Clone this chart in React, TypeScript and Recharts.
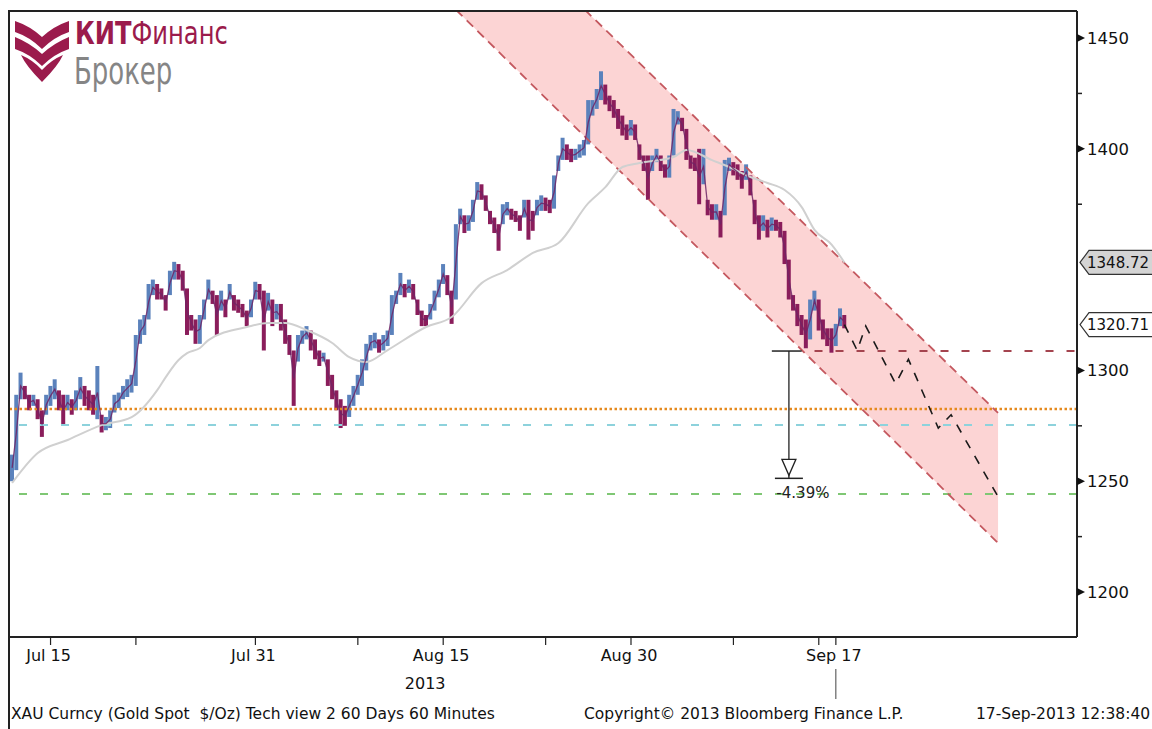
import {
  Area,
  Bar,
  Cell,
  ComposedChart,
  Line,
  ReferenceDot,
  ReferenceLine,
  XAxis,
  YAxis,
} from "recharts"

// XAU hourly view, one slot = a quarter of a trading day
const priceHigh = [
  1262, 1289, 1299, 1293, 1289, 1289, 1287, 1282, 1289, 1293,
  1296, 1291, 1289, 1289, 1287, 1291, 1297, 1293, 1291, 1289,
  1302, 1280, 1279, 1282, 1289, 1290, 1293, 1296, 1298, 1316,
  1323, 1325, 1339, 1341, 1339, 1337, 1334, 1345, 1349, 1348,
  1345, 1337, 1325, 1323, 1325, 1332, 1341, 1336, 1334, 1336, 1332,
  1339, 1334, 1332, 1330, 1327, 1332, 1340, 1339, 1336, 1335,
  1332, 1330, 1330, 1323, 1316, 1309, 1316, 1318, 1320, 1318,
  1314, 1309, 1308, 1305, 1298, 1291, 1287, 1284, 1289, 1293,
  1298, 1305, 1312, 1316, 1317, 1314, 1316, 1318, 1334, 1336,
  1344, 1339, 1341, 1339, 1332, 1327, 1325, 1330, 1336, 1341,
  1348, 1343, 1336, 1366, 1373, 1370, 1370, 1377, 1385, 1384,
  1379, 1372, 1369, 1366, 1375, 1376, 1373, 1372, 1370, 1377,
  1377, 1372, 1377, 1379, 1378, 1377, 1388, 1397, 1405, 1402,
  1400, 1400, 1402, 1404, 1422, 1422, 1427, 1435, 1429, 1424,
  1422, 1418, 1415, 1411, 1413, 1411, 1402, 1397, 1397, 1397,
  1400, 1397, 1393, 1397, 1418, 1417, 1414, 1409, 1397, 1396,
  1400, 1400, 1377, 1375, 1375, 1372, 1395, 1396, 1394, 1393,
  1390, 1393, 1388, 1377, 1370, 1370, 1368, 1369, 1368, 1367,
  1363, 1350, 1334, 1330, 1325, 1323, 1332, 1336, 1332, 1323,
  1319, 1319, 1321, 1328, 1325,
]
const priceLow = [
  1250, 1255, 1287, 1287, 1282, 1284, 1278, 1270, 1280, 1284,
  1287, 1282, 1275, 1282, 1280, 1282, 1287, 1284, 1282, 1280,
  1278, 1272, 1273, 1274, 1281, 1283, 1287, 1288, 1290, 1293,
  1312, 1316, 1323, 1334, 1332, 1332, 1327, 1334, 1341, 1341,
  1336, 1316, 1318, 1312, 1312, 1323, 1332, 1330, 1316, 1327, 1324,
  1332, 1327, 1326, 1324, 1320, 1324, 1332, 1332, 1309, 1327,
  1320, 1323, 1318, 1312, 1307, 1284, 1304, 1312, 1314, 1309,
  1305, 1302, 1304, 1293, 1287, 1282, 1274, 1275, 1279, 1284,
  1289, 1293, 1300, 1309, 1310, 1308, 1309, 1311, 1316, 1330,
  1334, 1333, 1335, 1332, 1325, 1320, 1320, 1323, 1327, 1333,
  1339, 1334, 1321, 1332, 1366, 1362, 1363, 1367, 1377, 1377,
  1372, 1366, 1362, 1354, 1366, 1370, 1368, 1367, 1363, 1369,
  1359, 1363, 1370, 1372, 1372, 1371, 1373, 1390, 1395, 1395,
  1394, 1395, 1396, 1397, 1402, 1415, 1418, 1422, 1420, 1417,
  1414, 1409, 1406, 1404, 1406, 1404, 1395, 1390, 1377, 1390,
  1394, 1390, 1387, 1387, 1397, 1411, 1408, 1395, 1391, 1390,
  1375, 1384, 1370, 1368, 1368, 1360, 1370, 1390, 1388, 1386,
  1382, 1386, 1379, 1366, 1359, 1363, 1360, 1363, 1363, 1360,
  1348, 1332, 1327, 1320, 1316, 1310, 1314, 1327, 1318, 1314,
  1311, 1308, 1311, 1320, 1319,
]

// moving average (grey)
const maIdx = [
  0, 6, 13, 21, 28, 34, 36, 39, 41, 44, 46, 55, 60, 64, 69, 75, 79, 83, 88,
  97, 103, 110, 116, 122, 128, 135, 139, 143, 147, 155, 158, 164, 168, 173,
  177, 181, 185, 188, 192, 195,
]
const maVal = [
  1249.2, 1262.7, 1268.6, 1275.3, 1278.9, 1291.1, 1297.0, 1304.7, 1307.8,
  1310.1, 1313.7, 1319.6, 1321.4, 1321.4, 1318.2, 1312.4, 1306.0, 1303.8,
  1309.2, 1319.6, 1324.1, 1339.4, 1345.3, 1353.0, 1357.5, 1375.5, 1382.7,
  1391.8, 1393.6, 1396.3, 1399.5, 1394.9, 1391.8, 1387.3, 1384.6, 1381.4,
  1373.7, 1363.4, 1356.8, 1348.7,
]

// projected path (black dashed)
const forecastIdx = [195, 198, 200, 207, 210, 217, 220, 231]
const forecastVal = [1320.7, 1309, 1320, 1294, 1305, 1274, 1280, 1243]

// falling channel
const channelIdx = [104, 231]
const channelLower = [1462.7, 1222.1]
const channelUpper = [1519.5, 1280.8]

const supportLevel = 1308.75
const targetLevel = 1251.3
const orangeLevel = 1282.6
const cyanLevel = 1275.4
const greenLevel = 1244.2
const lastPrice = 1320.71
const lastMA = 1348.72

const arrowIdx = 182
const supportFrom = 178
const supportTo = 185
const dashFrom = 188
const slotCount = 250

const xTickIdx = [9, 29, 57, 81, 101, 125, 145, 169, 189, 193]
const xTickLabel = ["Jul 15", "", "Jul 31", "", "Aug 15", "", "Aug 30", "", "", "Sep 17"]
const yMajor = [1200, 1250, 1300, 1400, 1450]
const yMinor = [1225, 1275, 1375, 1425]
const yTicks = [...yMajor, ...yMinor, lastPrice, lastMA].sort((a, b) => a - b)

const UP = "#5b82bc"
const DOWN = "#8a1d5b"
const FONT = "'DejaVu Sans', sans-serif"
const LOGO_FONT = "'DejaVu Sans Condensed', 'DejaVu Sans', sans-serif"

const rows = Array.from({ length: slotCount }, (_, j) => {
  const row: any = { j }
  if (j < priceHigh.length) {
    row.range = [priceLow[j], priceHigh[j]]
    row.mid = (priceLow[j] + priceHigh[j]) / 2
    const prev = j > 0 ? (priceLow[j - 1] + priceHigh[j - 1]) / 2 : row.mid
    row.color = row.mid >= prev ? UP : DOWN
  }
  const m = maIdx.indexOf(j)
  if (m >= 0) row.ma = maVal[m]
  const f = forecastIdx.indexOf(j)
  if (f >= 0) row.fc = forecastVal[f]
  const c = channelIdx.indexOf(j)
  if (c >= 0) {
    row.lower = channelLower[c]
    row.upper = channelUpper[c]
    row.band = [channelLower[c], channelUpper[c]]
  }
  return row
})

const pct = (((targetLevel - supportLevel) / supportLevel) * 100).toFixed(2) + "%"

function YTick(props: any) {
  const { x, y, payload } = props
  const v = payload.value
  if (v === lastMA || v === lastPrice) {
    const fill = v === lastMA ? "#d4d4d4" : "#ffffff"
    return (
      <g>
        <path
          d={`M${x + 3},${y} L${x + 12},${y - 12} L${x + 76},${y - 12} L${x + 76},${y + 12} L${x + 12},${y + 12} Z`}
          fill={fill}
          stroke="#333"
          strokeWidth={1.2}
        />
        <text x={x + 10} y={y} dy="0.36em" fontSize={15} fill="#111" fontFamily={FONT}>
          {v.toFixed(2)}
        </text>
      </g>
    )
  }
  if (yMajor.includes(v)) {
    return (
      <g>
        <path d={`M${x},${y - 4} L${x + 8},${y} L${x},${y + 4} Z`} fill="#111" />
        <text x={x + 10} y={y} dy="0.36em" fontSize={16.5} fill="#111" fontFamily={FONT}>
          {v}
        </text>
      </g>
    )
  }
  return <line x1={x} x2={x + 5} y1={y} y2={y} stroke="#222" strokeWidth={1.5} />
}

function XTick(props: any) {
  const { x, y, payload } = props
  const k = xTickIdx.indexOf(payload.value)
  const label = xTickLabel[k] || ""
  return (
    <g>
      {label && (
        <text x={x - 2} y={y} dy="0.78em" textAnchor="middle" fontSize={16} fill="#111" fontFamily={FONT}>
          {label}
        </text>
      )}
      {label === "Aug 15" && (
        <text x={x - 18} y={y + 28} dy="0.78em" textAnchor="middle" fontSize={16} fill="#111" fontFamily={FONT}>
          2013
        </text>
      )}
      {label === "Sep 17" && <line x1={x} x2={x} y1={y + 20} y2={y + 50} stroke="#444" strokeWidth={1} />}
    </g>
  )
}

function ArrowHead(props: any) {
  const { cx, cy } = props
  return (
    <g>
      <path
        d={`M${cx - 7},${cy - 19} L${cx + 7},${cy - 19} L${cx},${cy - 3} Z`}
        fill="#fff"
        stroke="#222"
        strokeWidth={1.3}
      />
      <line x1={cx - 14} x2={cx + 14} y1={cy} y2={cy} stroke="#222" strokeWidth={1.5} />
      <text x={cx + 14} y={cy + 14} dy="0.36em" textAnchor="middle" fontSize={15} fill="#222" fontFamily={FONT}>
        {pct}
      </text>
    </g>
  )
}

function Logo() {
  const red = "#9b1b4c"
  return (
    <div style={{ position: "absolute", left: 0, top: 0, width: 250, height: 100 }}>
      <svg width={80} height={100} style={{ position: "absolute", left: 0, top: 0 }}>
        <path d="M15,21 Q30,26 42,37 Q54,26 69,21 L69,32 Q54,37 42,49 Q30,37 15,32 Z" fill={red} />
        <path d="M15,37 Q30,43 42,54 Q54,43 69,37 L69,49 Q54,54 42,66 Q30,54 15,49 Z" fill={red} />
        <path d="M21,55 Q33,60 42,70 Q51,60 63,55 Q58,66 42,82 Q26,66 21,55 Z" fill={red} />
      </svg>
      <div
        style={{
          position: "absolute",
          left: 75,
          top: 17,
          fontFamily: LOGO_FONT,
          fontSize: 32,
          lineHeight: "32px",
          color: red,
          whiteSpace: "nowrap",
          transform: "scaleX(0.84)",
          transformOrigin: "left top",
        }}
      >
        <span style={{ fontWeight: 700 }}>КИТ</span>
        <span>Финанс</span>
      </div>
      <div
        style={{
          position: "absolute",
          left: 74,
          top: 53,
          fontFamily: LOGO_FONT,
          fontSize: 37,
          lineHeight: "38px",
          color: "#858585",
          whiteSpace: "nowrap",
          transform: "scaleX(0.78)",
          transformOrigin: "left top",
        }}
      >
        Брокер
      </div>
    </div>
  )
}

export default function App() {
  const textStyle = {
    position: "absolute" as const,
    top: 705,
    fontFamily: FONT,
    fontSize: 15.5,
    color: "#111",
    whiteSpace: "pre" as const,
  }
  return (
    <div style={{ position: "absolute", left: 0, top: 0, width: 1152, height: 729, background: "#fff" }}>
      <ComposedChart
        width={1152}
        height={729}
        data={rows}
        margin={{ top: 11, right: 0, bottom: 62, left: 10 }}
        barCategoryGap={0}
        barGap={0}
      >
        <XAxis
          dataKey="j"
          type="category"
          ticks={xTickIdx}
          interval={0}
          tick={<XTick />}
          tickSize={8}
          tickMargin={4}
          tickLine={{ stroke: "#222", strokeWidth: 1.2 }}
          axisLine={{ stroke: "#222", strokeWidth: 2 }}
          height={30}
        />
        <YAxis
          orientation="right"
          type="number"
          domain={[1179.7, 1462.2]}
          allowDataOverflow
          ticks={yTicks}
          interval={0}
          tick={<YTick />}
          tickLine={false}
          tickSize={0}
          tickMargin={0}
          axisLine={{ stroke: "#222", strokeWidth: 2 }}
          width={75}
        />
        <Area
          dataKey="band"
          connectNulls
          type="linear"
          stroke="none"
          fill="#fcd4d4"
          fillOpacity={1}
          isAnimationActive={false}
        />
        <ReferenceLine y={orangeLevel} stroke="#e5891d" strokeWidth={2.5} strokeDasharray="2.5 2.5" />
        <ReferenceLine y={cyanLevel} stroke="#8dd2dc" strokeWidth={2} strokeDasharray="8 13" />
        <ReferenceLine y={greenLevel} stroke="#7fc774" strokeWidth={2} strokeDasharray="8 13" />
        <ReferenceLine
          segment={[
            { x: dashFrom, y: supportLevel },
            { x: slotCount - 1, y: supportLevel },
          ]}
          stroke="#a4444f"
          strokeWidth={2}
          strokeDasharray="8 13"
        />
        <Line
          dataKey="lower"
          connectNulls
          type="linear"
          stroke="#c4585f"
          strokeWidth={1.8}
          strokeDasharray="9 6"
          dot={false}
          isAnimationActive={false}
        />
        <Line
          dataKey="upper"
          connectNulls
          type="linear"
          stroke="#c4585f"
          strokeWidth={1.8}
          strokeDasharray="9 6"
          dot={false}
          isAnimationActive={false}
        />
        <Line
          dataKey="ma"
          connectNulls
          type="monotone"
          stroke="#d0d0d0"
          strokeWidth={2}
          dot={false}
          isAnimationActive={false}
        />
        <Bar dataKey="range" isAnimationActive={false}>
          {rows.map((r) => (
            <Cell key={r.j} fill={r.color || UP} />
          ))}
        </Bar>
        <Line
          dataKey="mid"
          type="linear"
          stroke="#6e2466"
          strokeWidth={1.3}
          strokeOpacity={0.85}
          dot={false}
          isAnimationActive={false}
        />
        <Line
          dataKey="fc"
          connectNulls
          type="linear"
          stroke="#1a1a1a"
          strokeWidth={1.6}
          strokeDasharray="9 9"
          dot={false}
          isAnimationActive={false}
        />
        <ReferenceLine
          segment={[
            { x: supportFrom, y: supportLevel },
            { x: supportTo, y: supportLevel },
          ]}
          stroke="#222"
          strokeWidth={1.5}
        />
        <ReferenceLine
          segment={[
            { x: arrowIdx, y: supportLevel },
            { x: arrowIdx, y: targetLevel },
          ]}
          stroke="#222"
          strokeWidth={1.3}
        />
        <ReferenceDot x={arrowIdx} y={targetLevel} shape={<ArrowHead />} />
      </ComposedChart>
      <div style={{ position: "absolute", left: 9, top: 10, width: 1068, borderTop: "2px solid #222" }} />
      <div style={{ position: "absolute", left: 8, top: 10, height: 719, borderLeft: "2px solid #222" }} />
      <Logo />
      <div style={{ ...textStyle, left: 11 }}>XAU Curncy (Gold Spot  $/Oz) Tech view 2 60 Days 60 Minutes</div>
      <div style={{ ...textStyle, left: 584 }}>Copyright© 2013 Bloomberg Finance L.P.</div>
      <div style={{ ...textStyle, left: 976 }}>17-Sep-2013 12:38:40</div>
    </div>
  )
}
